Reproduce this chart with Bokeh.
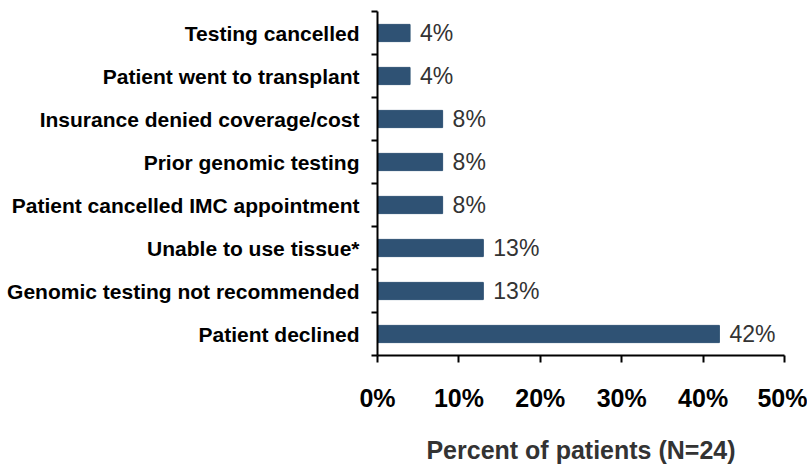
from bokeh.plotting import figure
from bokeh.models import FixedTicker, ColumnDataSource, Range1d
from bokeh.embed import file_html
from bokeh.resources import INLINE
from bokeh.core.properties import value

categories = ["Patient declined", "Genomic testing not recommended", "Unable to use tissue*",
              "Patient cancelled IMC appointment", "Prior genomic testing",
              "Insurance denied coverage/cost", "Patient went to transplant", "Testing cancelled"]
percents = [42, 13, 13, 8, 8, 8, 4, 4]
x_ticks = [0, 10, 20, 30, 40, 50]

n = len(categories)
ypos = [i + 0.5 for i in range(n)]
src = ColumnDataSource(dict(y=ypos, v=percents, lab=[f"{v}%" for v in percents]))

p = figure(width=807, height=466, output_backend="svg", toolbar_location=None,
           x_range=Range1d(0, 50), y_range=Range1d(0, n),
           min_border_left=377, min_border_right=23, min_border_top=11, min_border_bottom=98)
p.outline_line_color = None
p.grid.grid_line_color = None

p.hbar(y="y", right="v", left=0, height=0.4, source=src, fill_color="#2F5274", line_color="#2F5274")
p.text(x="v", y="y", text="lab", source=src, x_offset=10, text_baseline="middle",
       text_font=value("Liberation Sans"), text_font_size="23px", text_color="#333333")

ya = p.yaxis[0]
ya.ticker = FixedTicker(ticks=ypos, minor_ticks=list(range(n + 1)))
ya.major_label_overrides = {y: c for y, c in zip(ypos, categories)}
ya.major_tick_out = 0
ya.major_tick_in = 0
ya.minor_tick_out = 6
ya.minor_tick_in = 0
ya.minor_tick_line_color = "black"
ya.minor_tick_line_width = 2
ya.axis_line_width = 2
ya.axis_line_color = "black"
ya.major_label_text_font = "Liberation Sans"
ya.major_label_text_font_style = "bold"
ya.major_label_text_font_size = "21px"
ya.major_label_text_color = "black"
ya.major_label_standoff = 12

xa = p.xaxis[0]
xa.ticker = FixedTicker(ticks=x_ticks, minor_ticks=[])
xa.major_label_overrides = {t: f"{t}%" for t in x_ticks}
xa.major_tick_out = 7
xa.major_tick_in = 0
xa.major_tick_line_width = 2
xa.axis_line_width = 2
xa.axis_line_color = "black"
xa.major_label_text_font = "Liberation Sans"
xa.major_label_text_font_style = "bold"
xa.major_label_text_font_size = "25px"
xa.major_label_text_color = "black"
xa.major_label_standoff = 21
xa.axis_label = "Percent of patients (N=24)"
xa.axis_label_text_font = "Liberation Sans"
xa.axis_label_text_font_style = "bold"
xa.axis_label_text_font_size = "25px"
xa.axis_label_text_color = "#333333"
xa.axis_label_standoff = 21

open("out.html", "w").write(file_html(p, INLINE))
